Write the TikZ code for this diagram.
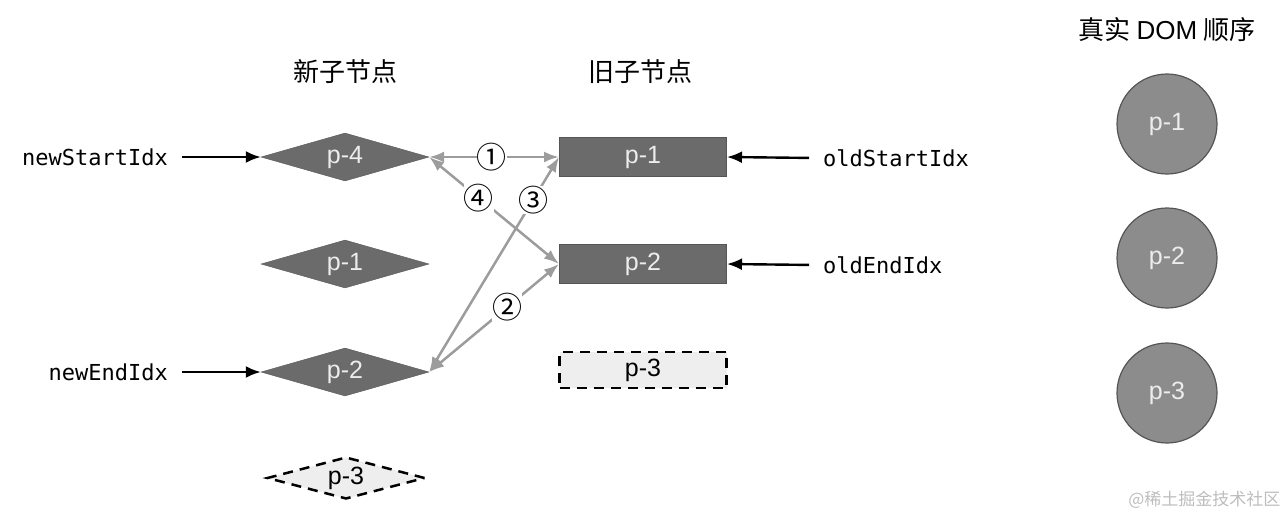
\documentclass[tikz,border=0pt]{standalone}
\usepackage{fontspec}
\setmainfont{Liberation Sans}
\setmonofont{DejaVu Sans Mono}
\newfontfamily\cjk{Noto Sans CJK SC}
\usetikzlibrary{shapes.geometric,arrows.meta}
\definecolor{nodegray}{HTML}{6B6B6B}
\definecolor{nodeedge}{HTML}{555555}
\definecolor{nodetext}{HTML}{EDEDED}
\definecolor{ghostgray}{HTML}{EEEEEE}
\definecolor{domgray}{HTML}{8C8C8C}
\definecolor{linkgray}{HTML}{9C9C9C}
\definecolor{markgray}{HTML}{BDBDBD}

\begin{document}
\begin{tikzpicture}[x=1pt,y=-1pt,every node/.style={font=\fontsize{25pt}{28pt}\selectfont},
newnode/.style={diamond, aspect=3.5, minimum width=168pt, minimum height=48pt, inner sep=0pt, fill=nodegray, draw=nodeedge, text=nodetext},
oldnode/.style={rectangle, minimum width=167pt, minimum height=39pt, inner sep=0pt, fill=nodegray, draw=nodeedge, line width=1pt, text=nodetext},
ghost/.style={fill=ghostgray, draw=black, text=black, line width=2.5pt, dash pattern=on 10pt off 7pt},
domnode/.style={circle, minimum size=100pt, inner sep=0pt, fill=domgray, draw=nodeedge, line width=1.2pt, text=nodetext},
idx/.style={font=\ttfamily\fontsize{22pt}{24pt}\selectfont, inner sep=7pt},
title/.style={font=\cjk\fontsize{26pt}{28pt}\selectfont},
pointer/.style={-{Latex[length=15pt,width=12pt]}, line width=2.4pt, shorten <=7pt},
link/.style={{Latex[length=15pt,width=11pt]}-{Latex[length=15pt,width=11pt]}, linkgray, line width=2.5pt},
step label/.style={font=\cjk\fontsize{30pt}{32pt}\selectfont, fill=white, text=black, inner sep=0pt}]
\useasboundingbox (0,0) rectangle (1288,520);

\node[title] (newtitle) at (345,72) {新子节点};
\node[title] (oldtitle) at (640,72) {旧子节点};
\node[title] (domtitle) at (1167,30) {真实 \fontspec{Liberation Sans}DOM\cjk{} 顺序};

\node[newnode] (n4) at (345,157) {p-4};
\node[newnode] (n1) at (345,264) {p-1};
\node[newnode] (n2) at (345,372) {p-2};
\node[newnode,ghost,minimum width=158pt,minimum height=42pt] (n3) at (346,478) {p-3};

\node[oldnode] (o1) at (643,157) {p-1};
\node[oldnode] (o2) at (643,264) {p-2};
\node[oldnode,ghost,minimum height=36pt] (o3) at (643,370) {p-3};

\node[domnode] (d1) at (1167,124) {p-1};
\node[domnode] (d2) at (1167,258) {p-2};
\node[domnode] (d3) at (1167,393) {p-3};

\node[idx,anchor=east] (newstart) at (175,157) {newStartIdx};
\node[idx,anchor=east] (newend) at (175,372) {newEndIdx};
\node[idx,anchor=west] (oldstart) at (816,158) {oldStartIdx};
\node[idx,anchor=west] (oldend) at (816,265) {oldEndIdx};

\draw[pointer] (newstart.east) -- (n4.west);
\draw[pointer] (newend.east) -- (n2.west);
\draw[pointer] (oldstart.west) -- (o1.east);
\draw[pointer] (oldend.west) -- (o2.east);

\draw[link] (n4.east) -- node[step label,pos=0.48] {①} (o1.west);
\draw[link] (n2.east) -- node[step label,pos=0.6] {②} (o2.west);
\draw[link] (n2.east) -- node[step label,pos=0.8] {③} (o1.west);
\draw[link] (n4.east) -- node[step label,pos=0.38] {④} (o2.west);

\node[font=\cjk\fontsize{17pt}{20pt}\selectfont, text=markgray, anchor=east] (mark) at (1284,500) {@稀土掘金技术社区};
\end{tikzpicture}
\end{document}
